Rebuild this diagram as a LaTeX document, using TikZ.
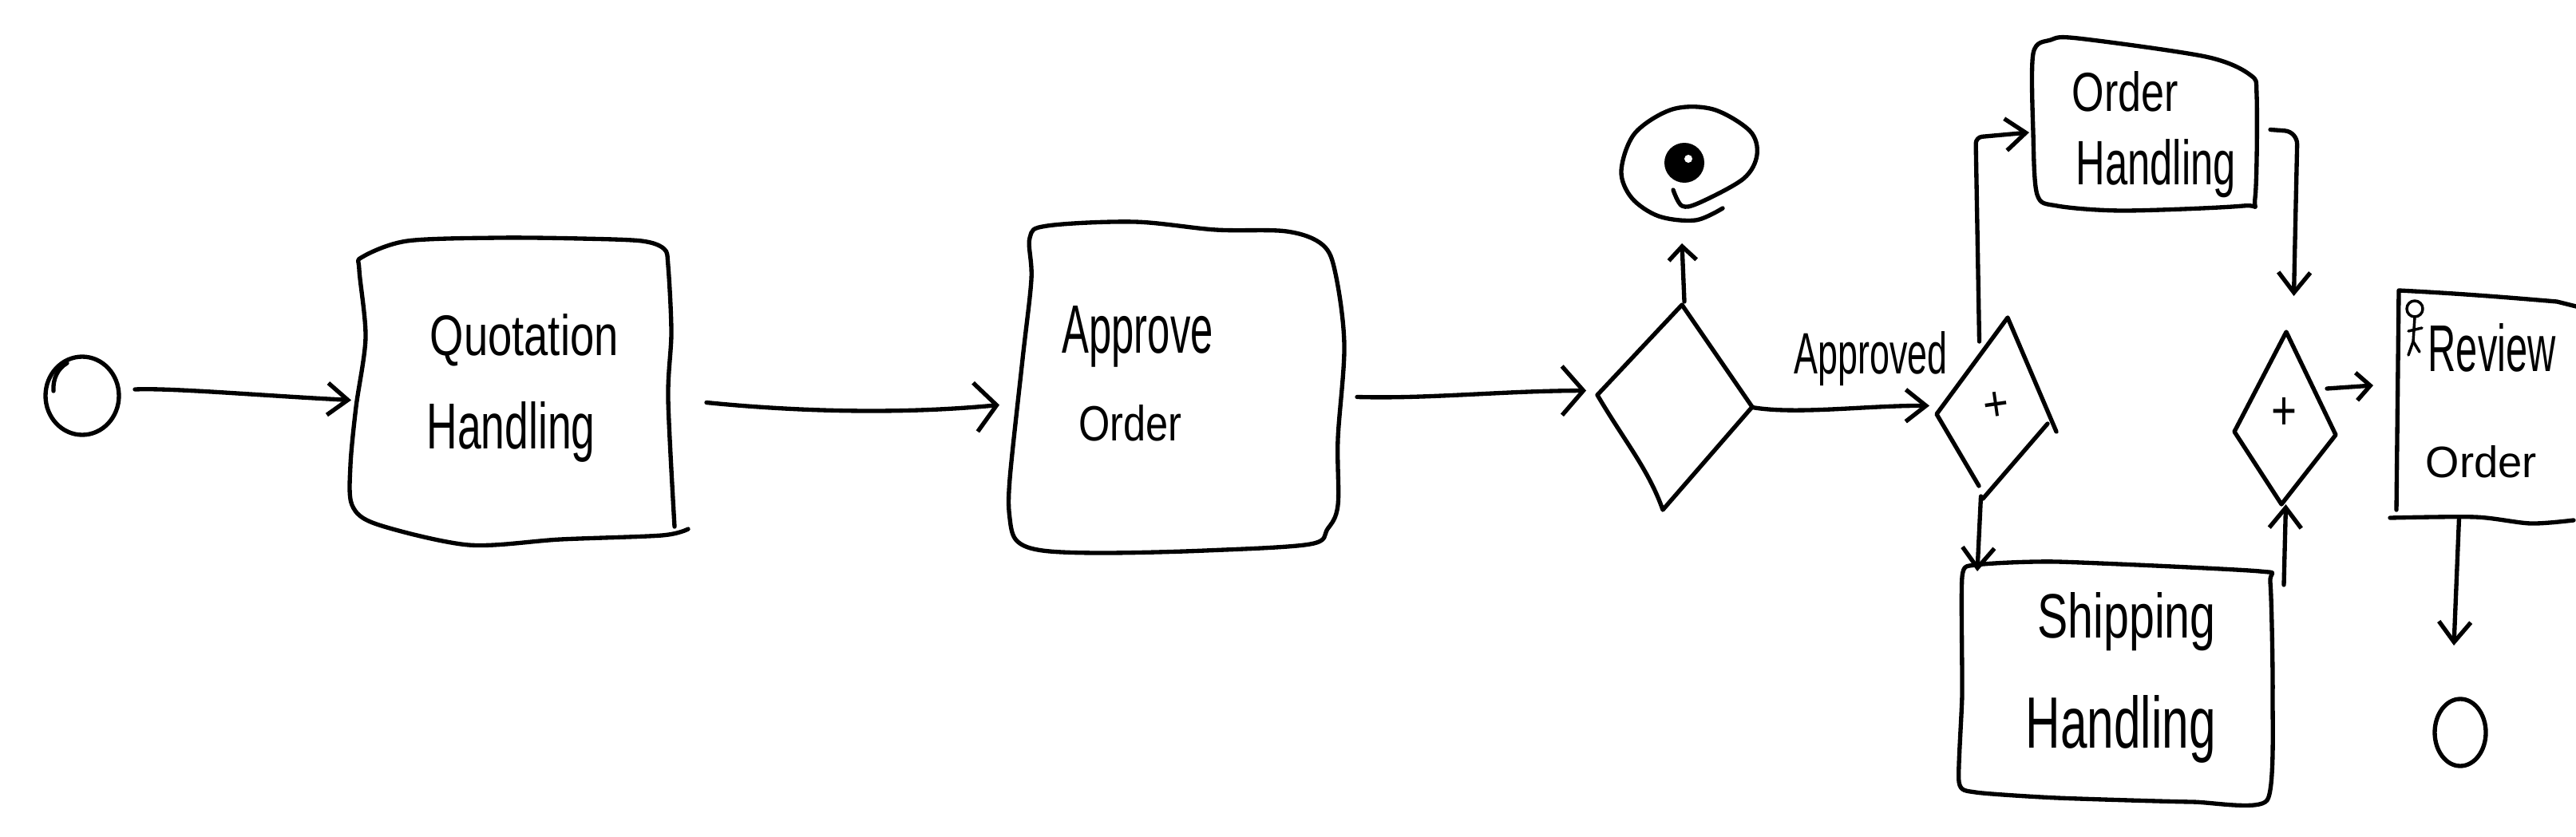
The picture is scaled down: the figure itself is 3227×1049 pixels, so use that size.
\documentclass[tikz,border=0pt]{standalone}
\usepackage{fontspec}
\usepackage{graphicx}
\setmainfont{Liberation Sans}
\usetikzlibrary{arrows.meta,calc,fit}

\newcommand{\hw}[3]{\resizebox{#1\dimexpr0.75pt\relax}{#2\dimexpr0.75pt\relax}{#3}}

\tikzset{every picture/.style={line width=4pt,line cap=round,line join=round}}
\tikzset{region/.style={inner sep=0pt,outer sep=0pt}}
\tikzset{hand/.style={anchor=base west,inner sep=0pt}}
\tikzset{flow/.style={-{Straight Barb[length=19pt,width=30pt]}}}
\tikzset{bigflow/.style={-{Straight Barb[length=20pt,width=46pt]}}}
\tikzset{smallflow/.style={-{Straight Barb[length=13pt,width=26pt]}}}

\begin{document}
\begin{tikzpicture}[x=0.75pt,y=0.75pt,yscale=-1,xscale=1]
	\useasboundingbox (0,0) rectangle (3227,1049);

	% Regions of the shapes, for the connectors
	\node [region,fit={(56,447)(150,545)}] (start) {};
	\node [region,fit={(440,300)(842,683)}] (quotation) {};
	\node [region,fit={(1265,278)(1684,693)}] (approve) {};
	\node [region,fit={(2001,382)(2195,639)}] (decision) {};
	\node [region,fit={(2031,137)(2201,276)}] (rejected) {};
	\node [region,fit={(2426,398)(2573,625)}] (split) {};
	\node [region,fit={(2547,48)(2827,264)}] (orderh) {};
	\node [region,fit={(2454,704)(2847,1005)}] (shippingh) {};
	\node [region,fit={(2799,416)(2926,632)}] (join) {};
	\node [region,fit={(3002,364)(3227,652)}] (review) {};
	\node [region,fit={(3050,876)(3114,960)}] (finish) {};

	%Shape: Start event
	\draw (103,496) ellipse [x radius=46,y radius=49];
	\draw (67,490) .. controls (66,475) and (72,462) .. (84,455);
	%Shape: Quotation box
	\draw plot [smooth,tension=0.5] coordinates {(845,660) (837,500) (841,417) (837,333) (832,312) (804,302) (727,299) (625,298) (510,302) (454,322) (450,338) (458,423) (446,510) (439,583) (441,633) (472,657) (587,683) (702,676) (829,671) (862,663)};
	%Shape: Approve box
	\draw plot [smooth cycle,tension=0.55] coordinates {(1290,298) (1312,283) (1421,278) (1523,288) (1612,290) (1657,307) (1673,343) (1684,433) (1676,550) (1676,633) (1663,663) (1641,682) (1510,690) (1383,693) (1306,690) (1274,678) (1265,650) (1265,600) (1281,450) (1292,350)};
	%Shape: Decision gateway
	\draw (2001,495) -- (2107,382) -- (2195,510) -- (2083,639) .. controls (2065,588) and (2035,553) .. (2001,495);
	%Shape: Rejected end event
	\draw plot [smooth,tension=0.55] coordinates {(2158,261) (2124,276) (2078,271) (2044,248) (2031,214) (2048,167) (2095,137) (2146,137) (2192,164) (2201,194) (2184,224) (2129,254) (2107,258) (2096,238)};
	\fill (2110,204) ellipse [x radius=25,y radius=25];
	\fill [white] (2115,199) circle [radius=5];
	%Shape: Split gateway
	\draw (2479,609) -- (2426,519) -- (2515,398) -- (2576,541);
	\draw (2565,531) -- (2484,625);
	%Shape: Order handling box
	\draw plot [smooth cycle,tension=0.5] coordinates {(2547,67) (2569,50) (2603,48) (2763,71) (2819,94) (2827,120) (2825,248) (2810,258) (2661,264) (2577,258) (2552,244) (2547,167)};
	%Shape: Shipping handling box
	\draw plot [smooth cycle,tension=0.35] coordinates {(2458,723) (2475,708) (2577,704) (2831,716) (2844,730) (2847,870) (2840,1003) (2746,1005) (2577,1000) (2475,993) (2454,980) (2458,870)};
	%Shape: Join gateway
	\draw (2864,416) -- (2926,545) -- (2858,632) -- (2799,541) -- cycle;
	%Shape: Review box
	\draw (3002,639) -- (3005,364) .. controls (3084,368) and (3144,373) .. (3203,378) -- (3227,384);
	\draw plot [smooth,tension=0.5] coordinates {(2994,649) (3101,648) (3170,656) (3224,652)};
	%Shape: Actor
	\begin{scope}[line width=2.6pt]
	\draw (3025,387) circle [radius=10];
	\draw (3025,397) -- (3023,428) -- (3017,445);
	\draw (3023,428) -- (3031,441);
	\draw (3017,415) -- (3034,411);
	\end{scope}
	%Shape: Finish end event
	\draw (3082,918) ellipse [x radius=32,y radius=42];

	%Curve Lines
	\draw [flow] ($(start.east)+(19,-8)$) .. controls (215,486) and (330,496) .. ($(quotation.west)+(0,10)$);
	%Curve Lines
	\draw [bigflow] ($(quotation.east)+(43,13)$) .. controls (990,515) and (1120,520) .. ($(approve.west)+(-13,22)$);
	%Curve Lines
	\draw [bigflow] ($(approve.east)+(16,12)$) .. controls (1790,500) and (1880,490) .. ($(decision.west)+(-14,-21)$);
	%Straight Lines
	\draw [smallflow] ($(decision.north)+(12,-4)$) -- ($(rejected.south)+(-9,29)$);
	%Curve Lines
	\draw [flow] (decision.east) .. controls (2250,520) and (2340,508) .. ($(split.west)+(-9,-3)$);
	%Straight Lines
	\draw [flow,rounded corners=6pt] ($(split.north)+(-20,30)$) -- (2475,172) -- ($(orderh.west)+(-5,10)$);
	%Straight Lines
	\draw [flow] ($(split.south)+(-18,-3)$) -- ($(shippingh.north west)+(23,12)$);
	%Straight Lines
	\draw [flow,rounded corners=12pt] ($(orderh.east)+(17,6.5)$) -- (2878,165) -- ($(join.north)+(11,-45)$);
	%Straight Lines
	\draw [flow] ($(shippingh.north east)+(14,29)$) -- ($(join.south)+(1,0)$);
	%Curve Lines
	\draw [smallflow] ($(join.east)+(-11,-37)$) -- ($(review.west)+(-29,-25)$);
	%Straight Lines
	\draw [flow] ($(review.south)+(-34,-3)$) -- ($(finish.north)+(-8,-67)$);

	% Text Node
	\draw (536,445) node [hand] (quotation1) {\hw{236}{52}{Quotation}};
	% Text Node
	\draw (532,562) node [hand] (quotation2) {\hw{211}{59}{Handling}};
	% Text Node
	\draw (1328,442) node [hand] (approve1) {\hw{189}{59}{Approve}};
	% Text Node
	\draw (1349,552) node [hand] (approve2) {\hw{129}{45}{Order}};
	% Text Node
	\draw (2245,468) node [hand] (approved) {\hw{192}{53}{Approved}};
	% Text Node
	\draw (2501,509) node [inner sep=0pt,rotate=8] (plusa) {\hw{32}{36}{+}};
	% Text Node
	\draw (2861,518) node [inner sep=0pt] (plusb) {\hw{32}{40}{+}};
	% Text Node
	\draw (2593,140) node [hand] (orderh1) {\hw{133}{50}{Order}};
	% Text Node
	\draw (2598,231) node [hand] (orderh2) {\hw{200}{57}{Handling}};
	% Text Node
	\draw (2550,799) node [hand] (shippingh1) {\hw{223}{57}{Shipping}};
	% Text Node
	\draw (2535,937) node [hand] (shippingh2) {\hw{238}{66}{Handling}};
	% Text Node
	\draw (3039,465) node [hand] (review1) {\hw{160}{60}{Review}};
	% Text Node
	\draw (3036,598) node [hand] (review2) {\hw{139}{40}{Order}};

\end{tikzpicture}
\end{document}
